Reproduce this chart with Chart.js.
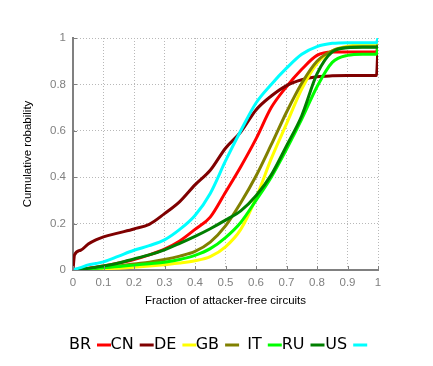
<!DOCTYPE html>
<html>
<head>
<meta charset="utf-8">
<script src="https://cdn.jsdelivr.net/npm/chart.js@4/dist/chart.umd.min.js"></script>
<style>
  html, body { margin: 0; padding: 0; background: #fff; }
  #wrap { width: 433px; height: 366px; position: relative; }
</style>
</head>
<body>
<div id="wrap"><canvas id="myChart" width="433" height="366"></canvas></div>
<script>
const xs = [0, 0.005, 0.025, 0.05, 0.075, 0.1, 0.15, 0.2, 0.25, 0.3, 0.35, 0.4, 0.45, 0.5, 0.55, 0.6, 0.65, 0.7, 0.75, 0.8, 0.85, 0.9, 0.95, 0.995, 1];

const countries = ["BR", "CN", "DE", "GB", "IT", "RU", "US"];
const colores = ["#ff0000", "#7f0000", "#ffff00", "#808000", "#00ff00", "#007f00", "#00ffff"];

const BR = [0, 0.001, 0.004, 0.008, 0.012, 0.017, 0.03, 0.045, 0.065, 0.09, 0.125, 0.175, 0.228, 0.335, 0.445, 0.565, 0.7, 0.79, 0.865, 0.925, 0.94, 0.94, 0.94, 0.94, 0.97];
const CN = [0, 0.065, 0.085, 0.112, 0.13, 0.143, 0.16, 0.177, 0.197, 0.243, 0.295, 0.367, 0.43, 0.525, 0.595, 0.69, 0.75, 0.795, 0.82, 0.833, 0.837, 0.838, 0.838, 0.838, 0.97];
const DE = [0, 0, 0.002, 0.003, 0.004, 0.005, 0.008, 0.012, 0.017, 0.023, 0.03, 0.04, 0.058, 0.1, 0.175, 0.31, 0.48, 0.63, 0.78, 0.89, 0.945, 0.965, 0.97, 0.97, 0.975];
const GB = [0, 0, 0.002, 0.005, 0.008, 0.011, 0.017, 0.026, 0.034, 0.045, 0.06, 0.08, 0.12, 0.19, 0.29, 0.405, 0.54, 0.68, 0.805, 0.9, 0.945, 0.96, 0.962, 0.962, 0.97];
const IT = [0, 0, 0.002, 0.005, 0.007, 0.01, 0.015, 0.021, 0.027, 0.033, 0.045, 0.063, 0.092, 0.14, 0.205, 0.3, 0.4, 0.52, 0.65, 0.79, 0.895, 0.925, 0.93, 0.93, 0.96];
const RU = [0, 0, 0.003, 0.007, 0.012, 0.017, 0.03, 0.048, 0.065, 0.087, 0.115, 0.145, 0.178, 0.215, 0.255, 0.32, 0.41, 0.535, 0.665, 0.845, 0.94, 0.958, 0.96, 0.96, 0.965];
const US = [0, 0.003, 0.01, 0.022, 0.028, 0.035, 0.06, 0.085, 0.105, 0.13, 0.175, 0.235, 0.33, 0.47, 0.6, 0.72, 0.8, 0.87, 0.93, 0.963, 0.977, 0.98, 0.98, 0.98, 1.0];

const xTickLabels = ["0", "0.1", "0.2", "0.3", "0.4", "0.5", "0.6", "0.7", "0.8", "0.9", "1"];
const yTickLabels = ["0", "0.2", "0.4", "0.6", "0.8", "1"];

const series = [BR, CN, DE, GB, IT, RU, US];

const gris = "#808080";
const fuenteEjes = "'Liberation Sans', Arial, sans-serif";

// tick marks pointing into the plot + legend "label —" like gnuplot
const extras = {
  id: "extras",
  afterDraw(chart) {
    const c = chart.ctx;
    const xScale = chart.scales.x;
    const yScale = chart.scales.y;
    const area = chart.chartArea;
    c.save();
    c.strokeStyle = gris;
    c.lineWidth = 1;
    xScale.ticks.forEach((t) => {
      const px = Math.round(xScale.getPixelForValue(t.value)) + 0.5;
      c.beginPath();
      c.moveTo(px, area.bottom);
      c.lineTo(px, area.bottom - 4);
      c.stroke();
    });
    yScale.ticks.forEach((t) => {
      const py = Math.round(yScale.getPixelForValue(t.value)) + 0.5;
      c.beginPath();
      c.moveTo(area.left, py);
      c.lineTo(area.left + 4, py);
      c.stroke();
    });

    c.font = "16px 'DejaVu Sans', sans-serif";
    c.textAlign = "right";
    c.textBaseline = "middle";
    const yLey = 345;
    chart.data.datasets.forEach((ds, i) => {
      const x0 = 97 + i * 42.7;
      c.fillStyle = "#000";
      c.fillText(ds.label, x0 - 6, yLey);
      c.strokeStyle = ds.borderColor;
      c.lineWidth = 3;
      c.beginPath();
      c.moveTo(x0, yLey);
      c.lineTo(x0 + 14, yLey);
      c.stroke();
    });
    c.restore();
  },
};

const ctx = document.getElementById("myChart").getContext("2d");

const myChart = new Chart(ctx, {
  type: "line",
  data: {
    datasets: countries.map((nombre, i) => ({
      label: nombre,
      data: xs.map((x, j) => ({ x: x, y: series[i][j] })),
      borderColor: colores[i],
      backgroundColor: colores[i],
      borderWidth: 3,
      pointRadius: 0,
      fill: false,
      cubicInterpolationMode: "monotone",
      order: countries.length - i,
    })),
  },
  options: {
    responsive: false,
    animation: false,
    layout: { padding: { left: 0, right: 55, top: 38, bottom: 56 } },
    plugins: {
      legend: { display: false },
      tooltip: { enabled: false },
    },
    scales: {
      x: {
        type: "linear",
        min: 0,
        max: 1,
        afterFit: (scale) => { scale.height = 40; },
        ticks: {
          stepSize: 0.1,
          color: gris,
          padding: 6,
          font: { family: fuenteEjes, size: 11.5 },
          callback: (v, i) => xTickLabels[i],
          maxRotation: 0,
        },
        grid: {
          color: "#b8b8b8",
          lineWidth: 1,
          drawTicks: false,
        },
        border: { display: true, color: gris, width: 2, dash: [1, 2] },
        title: {
          display: true,
          text: "Fraction of attacker-free circuits",
          color: "#000",
          font: { family: fuenteEjes, size: 11.5 },
          padding: { top: 0, bottom: 2 },
        },
      },
      y: {
        min: 0,
        max: 1,
        afterFit: (scale) => { scale.width = 73; },
        ticks: {
          stepSize: 0.2,
          color: gris,
          padding: 7,
          font: { family: fuenteEjes, size: 11.5 },
          callback: (v, i) => yTickLabels[i],
        },
        grid: {
          color: "#b8b8b8",
          lineWidth: 1,
          drawTicks: false,
        },
        border: { display: true, color: gris, width: 2, dash: [1, 2] },
        title: {
          display: true,
          text: "Cumulative robability",
          color: "#000",
          font: { family: fuenteEjes, size: 11.5 },
          padding: { top: 21, bottom: 0 },
        },
      },
    },
  },
  plugins: [extras],
});
</script>
</body>
</html>
